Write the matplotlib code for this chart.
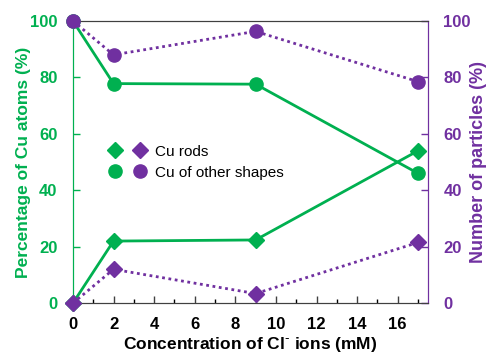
import matplotlib.pyplot as plt
from matplotlib.legend_handler import HandlerTuple
from matplotlib.ticker import MultipleLocator

plt.rcParams['font.family'] = ['Liberation Sans', 'DejaVu Sans']

conc = [0, 2, 9, 17]
# percentage of Cu atoms (left axis)
atoms_rods = [0, 22, 22.4, 54]
atoms_other = [100, 77.8, 77.6, 46]
# number of particles (right axis)
particles_rods = [0, 12, 3.4, 21.5]
particles_other = [100, 88, 96.3, 78.5]

green = '#00B050'
purple = '#7030A0'

fig = plt.figure(figsize=(4.86, 3.55), dpi=100)
ax = fig.add_axes([0.150, 0.146, 0.731, 0.795])
ax2 = ax.twinx()

ax.plot(conc, atoms_other, color=green, lw=2, marker='o', ms=9.5, clip_on=False, zorder=3)
ax.plot(conc, atoms_rods, color=green, lw=2, marker='D', ms=8.5, clip_on=False, zorder=3)
ax2.plot(conc, particles_other, color=purple, lw=2, ls=(0, (1, 1.3)), marker='o', ms=9.5, clip_on=False, zorder=3)
ax2.plot(conc, particles_rods, color=purple, lw=2, ls=(0, (1, 1.3)), marker='D', ms=8.5, clip_on=False, zorder=3)

ax.set_xlim(0, 17.5)
ax.set_ylim(0, 100)
ax2.set_ylim(0, 100)
ax.set_xticks(range(0, 17, 2))
ax.xaxis.set_minor_locator(MultipleLocator(1))
ax.set_yticks(range(0, 101, 20))
ax2.set_yticks(range(0, 101, 20))

for a in (ax, ax2):
    a.tick_params(direction='in', length=5, width=1)
    a.tick_params(which='minor', direction='in', length=3, width=1)
    a.spines['top'].set_color('#404040')
    a.spines['bottom'].set_color('#404040')
    a.spines['left'].set_color(green)
    a.spines['right'].set_color(purple)
ax.tick_params(axis='x', colors='#404040', labelcolor='black', labelsize=12, pad=10)
ax.tick_params(axis='y', colors=green, labelcolor=green, labelsize=12, pad=11)
ax2.tick_params(axis='y', colors=purple, labelcolor=purple, labelsize=12, pad=11)
for lab in ax.get_xticklabels() + ax.get_yticklabels() + ax2.get_yticklabels():
    lab.set_fontweight('bold')

ax.set_xlabel('Concentration of Cl$^{\\text{-}}$ ions (mM)', fontsize=12.5, fontweight='bold', labelpad=2)
ax.set_ylabel('Percentage of Cu atoms (%)', fontsize=12.5, fontweight='bold', color=green)
ax2.set_ylabel('Number of particles (%)', fontsize=13, fontweight='bold', color=purple)
ax.yaxis.set_label_coords(-0.118, 0.5)
ax2.yaxis.set_label_coords(1.117, 0.5)

h_rods = (plt.Line2D([], [], color=green, marker='D', ls='none', ms=8.5),
          plt.Line2D([], [], color=purple, marker='D', ls='none', ms=8.5))
h_other = (plt.Line2D([], [], color=green, marker='o', ls='none', ms=9.5),
           plt.Line2D([], [], color=purple, marker='o', ls='none', ms=9.5))
ax2.legend([h_rods, h_other], ['Cu rods', 'Cu of other shapes'],
           handler_map={tuple: HandlerTuple(ndivide=None, pad=0.7)},
           loc='upper left', bbox_to_anchor=(0.06, 0.61), frameon=False,
           fontsize=11, handlelength=2.6, handletextpad=0.5, labelspacing=0.45)

fig.savefig('out.png', dpi=100)
